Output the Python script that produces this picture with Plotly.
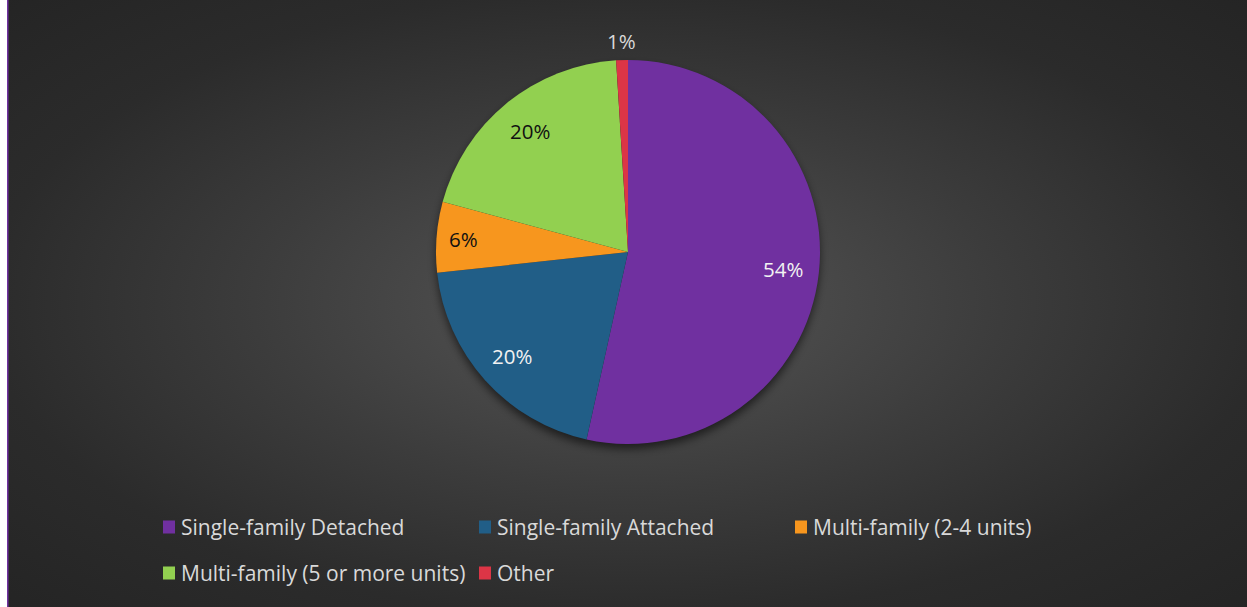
import base64
import math
import plotly.graph_objects as go

# Housing stock by structure type (percent of units)
categories = [
    "Single-family Detached",
    "Single-family Attached",
    "Multi-family (2-4 units)",
    "Multi-family (5 or more units)",
    "Other",
]
shares = [54, 20, 6, 20, 1]
slice_colors = ["#7030a0", "#215e87", "#f7961e", "#92d050", "#dc3546"]
label_colors = ["#f2f2f2", "#f2f2f2", "#111111", "#111111", "#d9d9d9"]

W, H = 1247, 607
CX, CY, R = 628, 252, 192  # pie centre and radius in pixels

# Backdrop: radial dark-grey gradient, left frame strip, soft drop shadow under the pie
svg = f"""<svg xmlns='http://www.w3.org/2000/svg' width='{W}' height='{H}' viewBox='0 0 {W} {H}'>
<defs>
<radialGradient id='bg' cx='0.5' cy='0.5' r='0.72'>
<stop offset='0' stop-color='#565656'/>
<stop offset='0.42' stop-color='#3c3c3c'/>
<stop offset='0.72' stop-color='#2b2b2b'/>
<stop offset='1' stop-color='#242424'/>
</radialGradient>
<filter id='blur' x='-20%' y='-20%' width='140%' height='140%'>
<feGaussianBlur stdDeviation='4'/>
</filter>
</defs>
<rect x='0' y='0' width='{W}' height='{H}' fill='#ffffff'/>
<rect x='8' y='0' width='{W - 8}' height='{H}' fill='url(#bg)'/>
<rect x='7' y='0' width='1.5' height='{H}' fill='#7030a0'/>
<circle cx='{CX}' cy='{CY + 5}' r='{R}' fill='#000000' fill-opacity='0.55' filter='url(#blur)'/>
</svg>"""
bg_uri = "data:image/svg+xml;base64," + base64.b64encode(svg.encode()).decode()

fig = go.Figure(
    go.Pie(
        labels=categories,
        values=shares,
        text=[f"{v}%" for v in shares],
        textinfo="none",
        sort=False,
        direction="clockwise",
        rotation=0,
        marker=dict(colors=slice_colors, line=dict(width=0)),
        domain=dict(
            x=[(CX - 300) / W, (CX + 300) / W],
            y=[(H - CY - R) / H, (H - CY + R) / H],
        ),
        hoverinfo="label+text",
        showlegend=False,
    )
)

annotations = []

# Percentage labels placed along each slice's mid-angle (clockwise from 12 o'clock)
total = sum(shares)
cum = 0.0
for v, col in zip(shares, label_colors):
    mid = (cum + v / 2) / total * 2 * math.pi
    cum += v
    frac = v / total
    if frac < 0.02:
        rr = 1.1 * R  # tiny slice: label sits just outside the rim
    elif frac < 0.1:
        rr = 0.86 * R
    else:
        rr = 0.81 * R
    px = CX + rr * math.sin(mid)
    py = CY - rr * math.cos(mid)
    annotations.append(
        dict(
            xref="paper",
            yref="paper",
            x=px / W,
            y=(H - py) / H,
            xanchor="center",
            yanchor="middle",
            text=f"{v}%",
            showarrow=False,
            font=dict(family="Open Sans", size=20.5, color=col),
        )
    )

# Legend laid out as a three-column grid under the pie
shapes = []
for i, (name, color) in enumerate(zip(categories, slice_colors)):
    col, row = i % 3, i // 3
    x_sq = 163 + col * 316
    y_mid = 527 + row * 46
    shapes.append(
        dict(
            type="rect",
            xref="paper",
            yref="paper",
            x0=x_sq / W,
            x1=(x_sq + 12) / W,
            y0=(H - y_mid - 6.5) / H,
            y1=(H - y_mid + 6.5) / H,
            fillcolor=color,
            line=dict(width=0),
        )
    )
    annotations.append(
        dict(
            xref="paper",
            yref="paper",
            x=(x_sq + 16) / W,
            y=(H - y_mid) / H,
            xanchor="left",
            yanchor="middle",
            text=name,
            showarrow=False,
            font=dict(family="Open Sans", size=21, color="#d9d9d9"),
        )
    )

fig.update_layout(
    width=W,
    height=H,
    margin=dict(l=0, r=0, t=0, b=0),
    paper_bgcolor="#ffffff",
    plot_bgcolor="rgba(0,0,0,0)",
    images=[
        dict(
            source=bg_uri,
            xref="paper",
            yref="paper",
            x=0,
            y=1,
            sizex=1,
            sizey=1,
            xanchor="left",
            yanchor="top",
            sizing="stretch",
            layer="below",
        )
    ],
    shapes=shapes,
    annotations=annotations,
    showlegend=False,
)

fig.write_html("out.html")
